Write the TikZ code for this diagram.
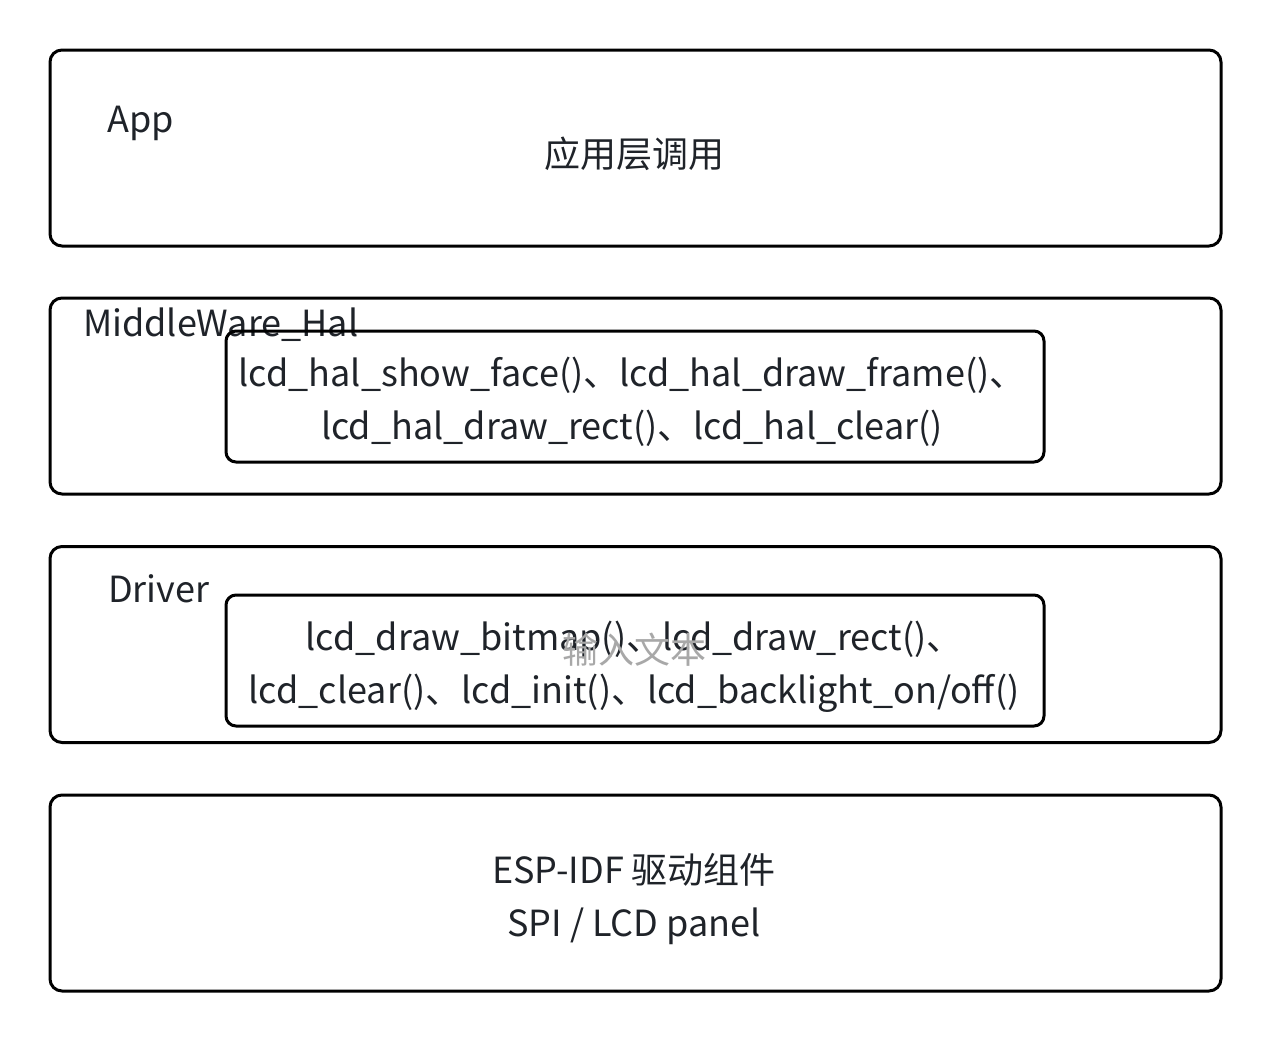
\documentclass[tikz,border=0pt]{standalone}
\usepackage{fontspec}
\setmainfont{Noto Sans CJK SC}
\usetikzlibrary{positioning}
\definecolor{txtgray}{HTML}{1F2329}
\definecolor{hintgray}{HTML}{A8A8A8}

\begin{document}
\begin{tikzpicture}[x=1pt,y=-1pt,
  layer/.style={draw,line width=3pt,rounded corners=12pt,minimum width=1171pt,minimum height=196pt,inner sep=0pt},
  funcbox/.style={draw,line width=3pt,rounded corners=10pt,minimum width=818pt,minimum height=131pt,inner sep=0pt},
  lbl/.style={text=txtgray,font=\fontsize{36}{53}\selectfont,inner sep=0pt,align=center}]
\useasboundingbox (0,0) rectangle (1272,1042);
%app layer
\node[layer] (app) at (635.5,148) {};
\node[lbl,anchor=base west] (appname) at (107,132) {App};
\node[lbl] (apptext) at (634,154) {应用层调用};
%middleware layer
\node[layer] (hal) at (635.5,396) {};
\node[lbl,anchor=base west] (halname) at (83,336) {MiddleWare\_Hal};
\node[funcbox] (halfunc) at (635,396.5) {};
\node[lbl] (haltext) at (632,402) {lcd\_hal\_show\_face()、lcd\_hal\_draw\_frame()、\\lcd\_hal\_draw\_rect()、lcd\_hal\_clear()};
%driver layer
\node[layer] (drv) at (635.5,644.5) {};
\node[lbl,anchor=base west] (drvname) at (108,602) {Driver};
\node[funcbox] (drvfunc) at (635,660.5) {};
\node[lbl] (drvtext) at (634,667) {lcd\_draw\_bitmap()、lcd\_draw\_rect()、\\lcd\_clear()、lcd\_init()、lcd\_backlight\_on/off()};
\node[lbl,text=hintgray] (drvhint) at (634,650) {输入文本};
%esp-idf layer
\node[layer] (idf) at (635.5,893) {};
\node[lbl] (idftext) at (634,899) {ESP-IDF 驱动组件\\SPI / LCD panel};
\end{tikzpicture}
\end{document}
